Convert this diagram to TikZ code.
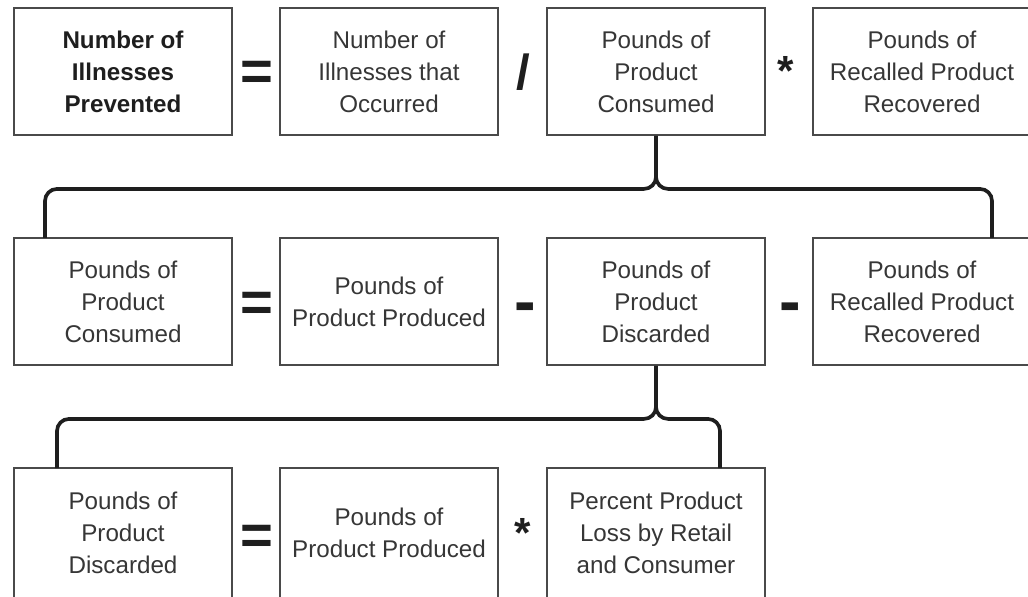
\documentclass[tikz,border=0pt]{standalone}
\usepackage{fontspec}
\setmainfont{Liberation Sans}

\definecolor{txtgray}{HTML}{363636}
\definecolor{boxgray}{HTML}{4A4A4A}
\definecolor{bracegray}{HTML}{1E1E1E}

\begin{document}
\begin{tikzpicture}[
    x=0.025cm, y=-0.025cm,
    box/.style={draw=boxgray, line width=1.3pt, minimum width=5.45cm,
        minimum height=3.175cm, align=center, text=txtgray,
        font=\fontsize{17.2}{22.8}\selectfont},
    lastbox/.style={box, minimum height=3.25cm},
    op/.style={anchor=base, inner sep=0pt, text=bracegray},
    brace/.style={draw=bracegray, line width=2.6pt, rounded corners=0.3cm},
]

\clip (0, 0) rectangle (1028, 597);

% --- Row 1: illnesses prevented ---
\node[box, font=\fontsize{17.2}{22.8}\selectfont\bfseries, text=bracegray]
    (prevented) at (123, 71.5) {Number of\\Illnesses\\Prevented};
\node[box] (occurred) at (389, 71.5) {Number of\\Illnesses that\\Occurred};
\node[box] (consumedA) at (656, 71.5) {Pounds of\\Product\\Consumed};
\node[box] (recoveredA) at (922, 71.5) {Pounds of\\Recalled Product\\Recovered};

\node[op, font=\fontsize{40}{40}\selectfont\bfseries] (eqA) at (257, 91) {=};
\node[op, font=\fontsize{35}{35}\selectfont\bfseries] (divA) at (523, 90) {/};
\node[op, font=\fontsize{30}{30}\selectfont\bfseries] (mulA) at (786, 86) {*};

% --- Row 2: pounds consumed ---
\node[box] (consumedB) at (123, 301.5) {Pounds of\\Product\\Consumed};
\node[box] (producedB) at (389, 301.5) {Pounds of\\Product Produced};
\node[box] (discardedB) at (656, 301.5) {Pounds of\\Product\\Discarded};
\node[box] (recoveredB) at (922, 301.5) {Pounds of\\Recalled Product\\Recovered};

\node[op, font=\fontsize{40}{40}\selectfont\bfseries] (eqB) at (257, 322) {=};
\node[op, font=\fontsize{46}{46}\selectfont\bfseries] (subB) at (525, 324) {-};
\node[op, font=\fontsize{46}{46}\selectfont\bfseries] (subC) at (790, 324) {-};

% --- Row 3: pounds discarded ---
\node[lastbox] (discardedC) at (123, 533) {Pounds of\\Product\\Discarded};
\node[lastbox] (producedC) at (389, 533) {Pounds of\\Product Produced};
\node[lastbox] (lossC) at (656, 533) {Percent Product\\Loss by Retail\\and Consumer};

\node[op, font=\fontsize{40}{40}\selectfont\bfseries] (eqC) at (257, 554) {=};
\node[op, font=\fontsize{30}{30}\selectfont\bfseries] (mulC) at (523, 547) {*};

% --- Braces ---
\coordinate (braceAl) at (45, 238);
\coordinate (braceAr) at (992, 238);
\coordinate (braceBl) at (57, 468);
\coordinate (braceBr) at (720, 468);

\draw[brace] (consumedA.south) -- ++(0, 53) -| (braceAl);
\draw[brace] (consumedA.south) -- ++(0, 53) -| (braceAr);
\draw[brace] (discardedB.south) -- ++(0, 53) -| (braceBl);
\draw[brace] (discardedB.south) -- ++(0, 53) -| (braceBr);

\end{tikzpicture}
\end{document}
